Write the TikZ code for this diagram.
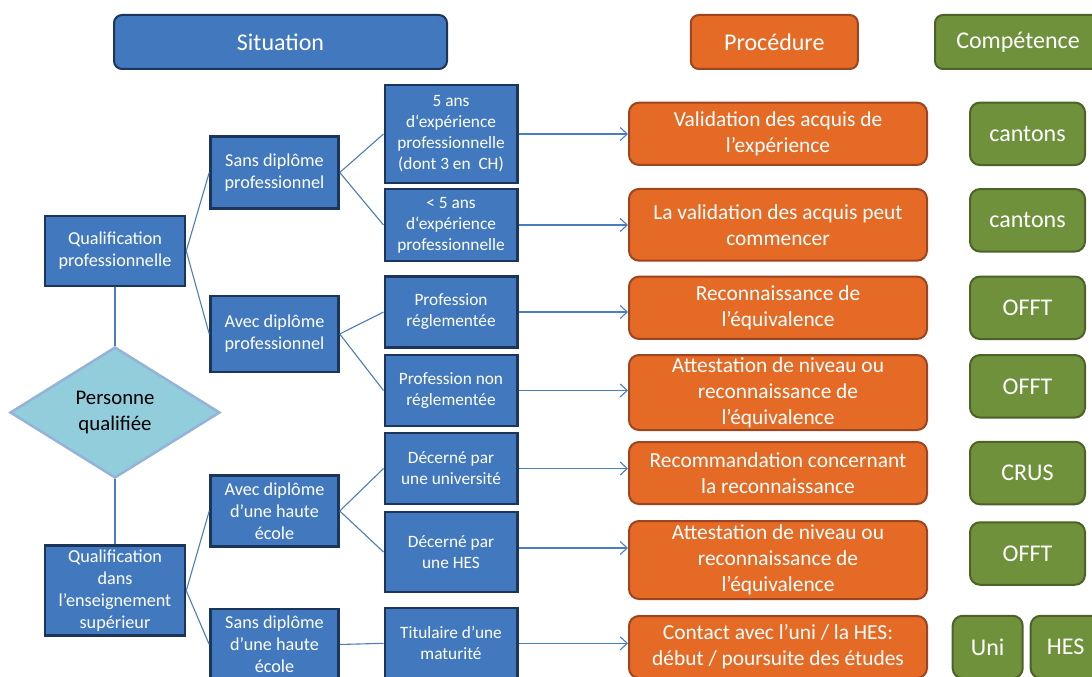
\documentclass[tikz,border=0pt]{standalone}
\usepackage{fontspec}
\setmainfont{Carlito}
\usepackage{tikz}
\usetikzlibrary{shapes, arrows.meta, positioning}
\definecolor{bluefill}{HTML}{4279BE}
\definecolor{bluedark}{HTML}{1B365A}
\definecolor{orangefill}{HTML}{E46A25}
\definecolor{orangedark}{HTML}{9C4520}
\definecolor{greenfill}{HTML}{6F913B}
\definecolor{greendark}{HTML}{4C6228}
\definecolor{diafill}{HTML}{92CDDC}
\definecolor{diadark}{HTML}{95B3D7}
\definecolor{linkblue}{HTML}{4A7EBB}

\begin{document}
\begin{tikzpicture}[x=1pt,y=-1pt,
	every node/.style={inner sep=0pt, align=center, text=white},
	situ/.style={draw=bluedark, fill=bluefill, line width=2pt, rounded corners=8pt,
		minimum height=54pt, font=\fontsize{24}{29}\selectfont},
	procedure/.style={draw=orangedark, fill=orangefill, line width=2pt, rounded corners=10pt,
		minimum width=298pt, font=\fontsize{21.4}{26}\selectfont},
	competence/.style={draw=greendark, fill=greenfill, line width=2pt, rounded corners=10pt,
		minimum width=115pt, minimum height=62.5pt, font=\fontsize{24}{29}\selectfont},
	levone/.style={draw=bluedark, fill=bluefill, line width=2.5pt,
		minimum width=140pt, font=\fontsize{18.2}{21.8}\selectfont},
	levtwo/.style={levone, minimum width=128pt},
	levthree/.style={levone, minimum width=132.5pt, font=\fontsize{17.3}{21}\selectfont},
	qualified/.style={diamond, draw=diadark, fill=diafill, line width=2.5pt, text=black,
		minimum width=210pt, minimum height=131pt, font=\fontsize{20.8}{26}\selectfont},
	link/.style={draw=linkblue, line width=1.1pt},
	arr/.style={link, -{Straight Barb[length=7pt,width=13pt]}}]
	\useasboundingbox (0,0) rectangle (1092,677);

	\node[situ, minimum width=333pt] (hsit) at (280.5,42) {Situation};
	\node[situ, draw=orangedark, fill=orangefill, minimum width=167pt] (hproc) at (774.3,42) {Procédure};
	\node[situ, draw=greendark, fill=greenfill, minimum width=166pt] (hcomp) at (1018,42) {Compétence};

	\node[levone, minimum height=70pt] (qp) at (115,251) {Qualification\\professionnelle};
	\node[qualified] (pq) at (115,412.5) {Personne\\qualifiée};
	\node[levone, minimum height=90pt] (qs) at (115,590.7) {Qualification\\dans\\l’enseignement\\supérieur};

	\node[levtwo, minimum height=71.6pt] (sdp) at (274.5,172.5) {Sans diplôme\\professionnel};
	\node[levtwo, minimum height=75.7pt] (adp) at (274.5,334) {Avec diplôme\\professionnel};
	\node[levtwo, minimum height=71pt] (ahe) at (274.5,511) {Avec diplôme\\d’une haute\\école};
	\node[levtwo, minimum height=71pt] (she) at (274.5,644.5) {Sans diplôme\\d’une haute\\école};

	\node[levthree, minimum height=97.7pt] (e5) at (451,134) {5 ans\\d‘expérience\\professionnelle\\(dont 3 en \ CH)};
	\node[levthree, minimum height=71.7pt] (e4) at (451,225) {< 5 ans\\d‘expérience\\professionnelle};
	\node[levthree, minimum height=71pt] (pr) at (451,312) {Profession\\réglementée};
	\node[levthree, minimum height=71pt] (pn) at (451,390.5) {Profession non\\réglementée};
	\node[levthree, minimum height=71pt] (du) at (451,468.5) {Décerné par\\une université};
	\node[levthree, minimum height=80pt] (dh) at (451,552) {Décerné par\\une HES};
	\node[levthree, minimum height=71pt] (tm) at (451,643.3) {Titulaire d’une\\maturité};

	\node[procedure, minimum height=62.3pt] (p1) at (778,133.8) {Validation des acquis de\\l’expérience};
	\node[procedure, minimum height=71.7pt] (p2) at (778,224.8) {La validation des acquis peut\\commencer};
	\node[procedure, minimum height=62.3pt] (p3) at (778,307.8) {Reconnaissance de\\l’équivalence};
	\node[procedure, minimum height=75pt] (p4) at (778,392.5) {Attestation de niveau ou\\reconnaissance de\\l’équivalence};
	\node[procedure, minimum height=62pt] (p5) at (778,473) {Recommandation concernant\\la reconnaissance};
	\node[procedure, minimum height=78pt] (p6) at (778,560) {Attestation de niveau ou\\reconnaissance de\\l’équivalence};
	\node[procedure, minimum height=62pt] (p7) at (778,647) {Contact avec l’uni / la HES:\\début / poursuite des études};

	\node[competence] (c1) at (1027.5,133.8) {cantons};
	\node[competence] (c2) at (1027.5,220.3) {cantons};
	\node[competence] (c3) at (1027.5,307.8) {OFFT};
	\node[competence] (c4) at (1027.5,386.3) {OFFT};
	\node[competence] (c5) at (1027.5,473) {CRUS};
	\node[competence] (c6) at (1027.5,553.5) {OFFT};
	\node[competence, minimum width=70pt] (cuni) at (987.7,647) {Uni};
	\node[competence, minimum width=70pt] (ches) at (1065.7,647) {HES};

	\draw[link] (qp) -- (pq) -- (qs);
	\draw[link] (qp.east) -- (sdp.west);
	\draw[link] (qp.east) -- (adp.west);
	\draw[link] (qs.east) -- (ahe.west);
	\draw[link] (qs.east) -- (she.west);
	\draw[link] (sdp.east) -- (e5.west);
	\draw[link] (sdp.east) -- (e4.west);
	\draw[link] (adp.east) -- (pr.west);
	\draw[link] (adp.east) -- (pn.west);
	\draw[link] (ahe.east) -- (du.west);
	\draw[link] (ahe.east) -- (dh.west);
	\draw[link] (she.east) -- (tm.west);

	\draw[arr] (e5.east) -- (e5.east -| p1.west);
	\draw[arr] (e4.east) -- (e4.east -| p2.west);
	\draw[arr] (pr.east) -- (pr.east -| p3.west);
	\draw[arr] (pn.east) -- (pn.east -| p4.west);
	\draw[arr] (du.east) -- (du.east -| p5.west);
	\draw[arr] ([yshift=4pt]dh.east) -- ([yshift=4pt]dh.east -| p6.west);
	\draw[arr] (tm.east) -- (tm.east -| p7.west);
\end{tikzpicture}
\end{document}
